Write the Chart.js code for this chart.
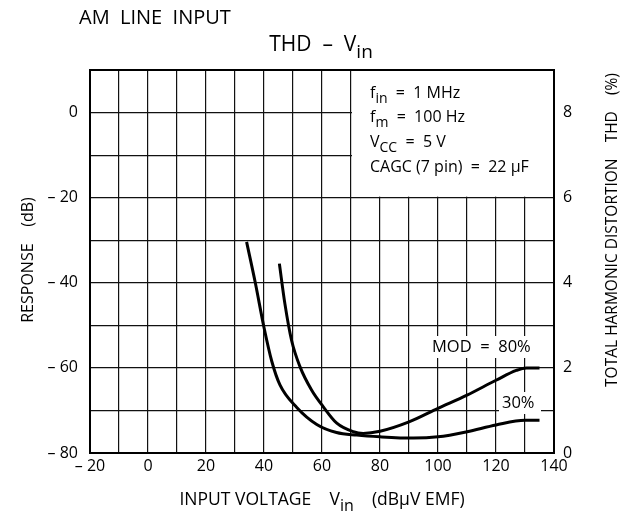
<!DOCTYPE html>
<html>
<head>
<meta charset="utf-8">
<script src="https://cdn.jsdelivr.net/npm/chart.js@4"></script>
<style>
  html, body { margin: 0; padding: 0; background: #fff; }
  #wrap { width: 635px; height: 517px; }
</style>
</head>
<body>
<div id="wrap"><canvas id="thdChart" width="635" height="517"></canvas></div>
<script>
// input voltage (dBuV EMF) vs response (dB); THD(%) = (dB + 80) / 10 on the right axis
const mod80X = [45.3, 47.2, 49.5, 52.4, 56.4, 60.4, 65.1, 70.8, 74.2, 80, 90, 100, 110, 120, 127, 130.5, 135];
const mod80Y = [-35.5, -44.9, -53.5, -59.7, -65.2, -69.1, -73, -75, -75.4, -74.9, -72.7, -69.5, -66.4, -62.9, -60.6, -60, -60];
const mod30X = [34, 37, 40, 42.7, 45.5, 51.3, 58.2, 65, 72, 80, 91.5, 100, 110, 120, 130, 135];
const mod30Y = [-30.4, -40, -50.5, -58.5, -64, -69.3, -73.3, -75.2, -75.8, -76.2, -76.5, -76.2, -75, -73.4, -72.3, -72.3];

const xTicks = [-20, 0, 20, 40, 60, 80, 100, 120, 140];
const respTicks = [-80, -60, -40, -20, 0];
const thdTicks = [0, 2, 4, 6, 8];
const boxLines = [
  [['f', false], ['in', true], ['  =  1 MHz', false]],
  [['f', false], ['m', true], ['  =  100 Hz', false]],
  [['V', false], ['CC', true], ['  =  5 V', false]],
  [['CAGC (7 pin)  =  22 \u03bcF', false]]
];

const FONT = '"Open Sans", "DejaVu Sans", sans-serif';

function fmt(v) {
  return v < 0 ? '\u2013 ' + Math.abs(v) : String(v);
}

function pts(xs, ys) {
  return xs.map((x, i) => ({ x: x, y: ys[i] }));
}

// draws text pieces, some of them as subscripts
function drawRich(ctx, parts, x, y, size, align) {
  const subSize = Math.round(size * 0.9);
  let w = 0;
  parts.forEach(p => {
    ctx.font = (p[1] ? subSize : size) + 'px ' + FONT;
    w += ctx.measureText(p[0]).width;
  });
  let cx = align === 'center' ? x - w / 2 : x;
  ctx.textAlign = 'left';
  ctx.textBaseline = 'middle';
  parts.forEach(p => {
    ctx.font = (p[1] ? subSize : size) + 'px ' + FONT;
    ctx.fillText(p[0], cx, p[1] ? y + size * 0.35 : y);
    cx += ctx.measureText(p[0]).width;
  });
}

const decorations = {
  id: 'decorations',
  beforeDatasetsDraw(chart) {
    const ctx = chart.ctx;
    const xs = chart.scales.x, ys = chart.scales.y;
    ctx.save();
    // white box for the conditions, top right
    const bx = xs.getPixelForValue(70), by = ys.getPixelForValue(-20);
    ctx.fillStyle = '#fff';
    ctx.fillRect(bx + 1, chart.chartArea.top, chart.chartArea.right - bx - 1, by - chart.chartArea.top - 1);
    ctx.fillStyle = '#000';
    boxLines.forEach((ln, i) => drawRich(ctx, ln, bx + 19, 93 + i * 24.7, 16, 'left'));
    // label backgrounds
    ctx.fillStyle = '#fff';
    ctx.fillRect(429, 336, 110, 22);
    ctx.fillRect(499, 392, 42, 22);
    ctx.restore();
  },
  afterDraw(chart) {
    const ctx = chart.ctx;
    const a = chart.chartArea;
    ctx.save();
    ctx.fillStyle = '#000';
    ctx.strokeStyle = '#000';
    ctx.lineWidth = 2;
    ctx.strokeRect(a.left, a.top, a.right - a.left, a.bottom - a.top);

    drawRich(ctx, [['AM  LINE  INPUT', false]], 79, 18, 20, 'left');
    drawRich(ctx, [['THD  \u2013  V', false], ['in', true]], 321, 45, 21, 'center');
    drawRich(ctx, [['INPUT VOLTAGE    V', false], ['in', true], ['    (dB\u03bcV EMF)', false]], 322, 500, 17.5, 'center');
    drawRich(ctx, [['MOD  =  80%', false]], 432, 347, 16.5, 'left');
    drawRich(ctx, [['30%', false]], 502, 403, 16.5, 'left');

    ctx.translate(28, 260);
    ctx.rotate(-Math.PI / 2);
    drawRich(ctx, [['RESPONSE    (dB)', false]], 0, 0, 16, 'center');
    ctx.restore();

    ctx.save();
    ctx.fillStyle = '#000';
    ctx.translate(613, 230);
    ctx.rotate(-Math.PI / 2);
    drawRich(ctx, [['TOTAL HARMONIC DISTORTION    THD    (%)', false]], 0, 0, 15.5, 'center');
    ctx.restore();
  }
};

const lineStyle = {
  borderColor: '#000',
  backgroundColor: '#000',
  borderWidth: 3,
  pointRadius: 0,
  fill: false,
  cubicInterpolationMode: 'monotone'
};

new Chart(document.getElementById('thdChart').getContext('2d'), {
  type: 'line',
  data: {
    datasets: [
      Object.assign({ label: 'MOD = 80%', data: pts(mod80X, mod80Y) }, lineStyle),
      Object.assign({ label: 'MOD = 30%', data: pts(mod30X, mod30Y) }, lineStyle)
    ]
  },
  options: {
    responsive: false,
    animation: false,
    layout: { padding: { left: 20, right: 31, top: 70, bottom: 34 } },
    plugins: { legend: { display: false }, tooltip: { enabled: false } },
    scales: {
      x: {
        type: 'linear',
        min: -20,
        max: 140,
        afterFit: s => { s.height = 30; },
        grid: { color: '#111', lineWidth: 1.2, drawTicks: false },
        border: { color: '#000', width: 2 },
        ticks: {
          stepSize: 10,
          padding: 4,
          maxRotation: 0,
          minRotation: 0,
          autoSkip: false,
          color: '#000',
          font: { family: FONT, size: 16 },
          callback: v => xTicks.includes(v) ? fmt(v) : ''
        }
      },
      y: {
        position: 'left',
        min: -80,
        max: 10,
        afterFit: s => { s.width = 70; },
        grid: { color: '#111', lineWidth: 1.2, drawTicks: false },
        border: { color: '#000', width: 2 },
        ticks: {
          stepSize: 10,
          padding: 12,
          color: '#000',
          font: { family: FONT, size: 16 },
          callback: v => respTicks.includes(v) ? fmt(v) : ''
        }
      },
      y2: {
        position: 'right',
        min: 0,
        max: 9,
        afterFit: s => { s.width = 50; },
        grid: { drawOnChartArea: false, drawTicks: false },
        border: { color: '#000', width: 2 },
        ticks: {
          stepSize: 1,
          padding: 9,
          color: '#000',
          font: { family: FONT, size: 16 },
          callback: v => thdTicks.includes(v) ? String(v) : ''
        }
      }
    }
  },
  plugins: [decorations]
});
</script>
</body>
</html>
